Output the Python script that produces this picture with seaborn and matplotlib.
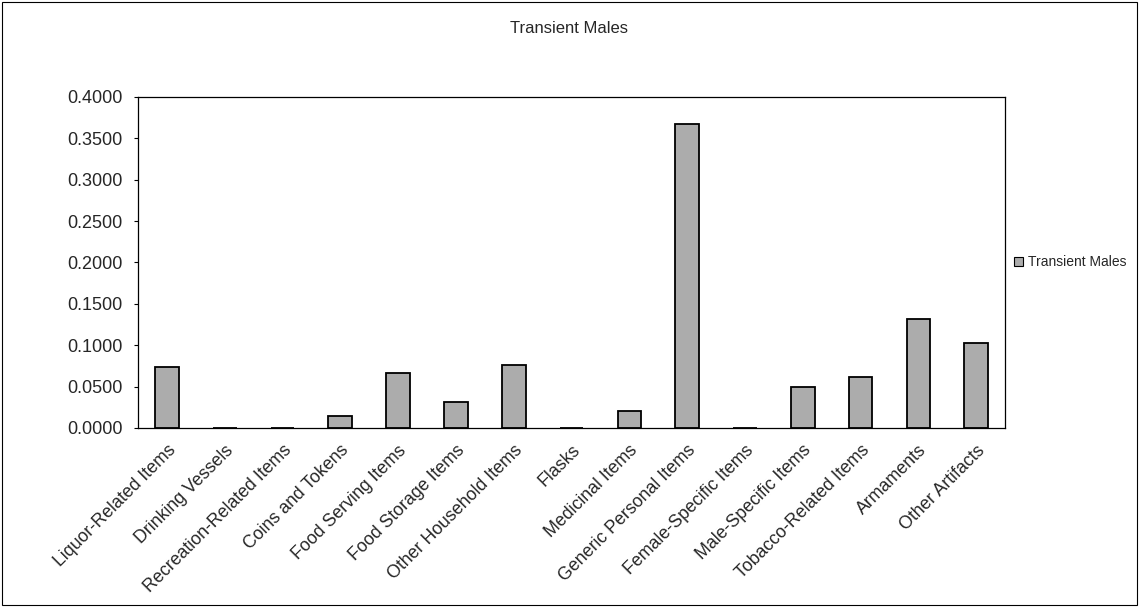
import matplotlib
matplotlib.use("Agg")
import matplotlib.pyplot as plt
import seaborn as sns
import pandas as pd
from matplotlib.patches import Rectangle

categories = [
    "Liquor-Related Items", "Drinking Vessels", "Recreation-Related Items",
    "Coins and Tokens", "Food Serving Items", "Food Storage Items",
    "Other Household Items", "Flasks", "Medicinal Items",
    "Generic Personal Items", "Female-Specific Items", "Male-Specific Items",
    "Tobacco-Related Items", "Armaments", "Other Artifacts",
]
values = [0.0740, 0.0, 0.0, 0.0150, 0.0665, 0.0315, 0.0760, 0.0, 0.0205,
          0.3670, 0.0, 0.0495, 0.0615, 0.1315, 0.1025]
yticks = [0.0, 0.05, 0.10, 0.15, 0.20, 0.25, 0.30, 0.35, 0.40]
series = "Transient Males"
bar_grey = "#acacac"

sns.set_theme(style="white")
plt.rcParams["font.family"] = ["Liberation Sans", "DejaVu Sans"]

df = pd.DataFrame({"category": categories, "value": values})

fig = plt.figure(figsize=(11.39, 6.07), dpi=100)
ax = fig.add_axes([0.1212, 0.2949, 0.7612, 0.5453])

sns.barplot(data=df, x="category", y="value", color=bar_grey,
            edgecolor="black", linewidth=1.3, width=0.41, saturation=1, ax=ax)

ax.set_ylim(0, 0.4)
ax.set_xlim(-0.5, len(categories) - 0.5)
ax.set_yticks(yticks)
ax.set_yticklabels([f"{t:.4f}" for t in yticks], fontsize=13)
ax.set_xticks(range(len(categories)))
ax.set_xticklabels(categories, rotation=45, ha="right", rotation_mode="anchor",
                   fontsize=12.8)
ax.set_xlabel("")
ax.set_ylabel("")
ax.tick_params(axis="y", left=True, length=3, width=0.8, color="black", pad=8)
ax.tick_params(axis="x", bottom=False, pad=4)
for s in ax.spines.values():
    s.set_color("black")
    s.set_linewidth(0.9)

fig.text(0.5, 0.953, series, ha="center", va="center", fontsize=12)

handle = Rectangle((0, 0), 1, 1, facecolor=bar_grey, edgecolor="black",
                   linewidth=0.8)
fig.legend([handle], [series], loc="center left",
           bbox_to_anchor=(0.879, 0.568), frameon=False, fontsize=10,
           handlelength=0.7, handleheight=0.7, handletextpad=0.35)

fig.add_artist(Rectangle((0.002, 0.004), 0.996, 0.992, transform=fig.transFigure,
                         fill=False, edgecolor="black", linewidth=0.8))

fig.savefig("out.png", dpi=100, facecolor="white")
